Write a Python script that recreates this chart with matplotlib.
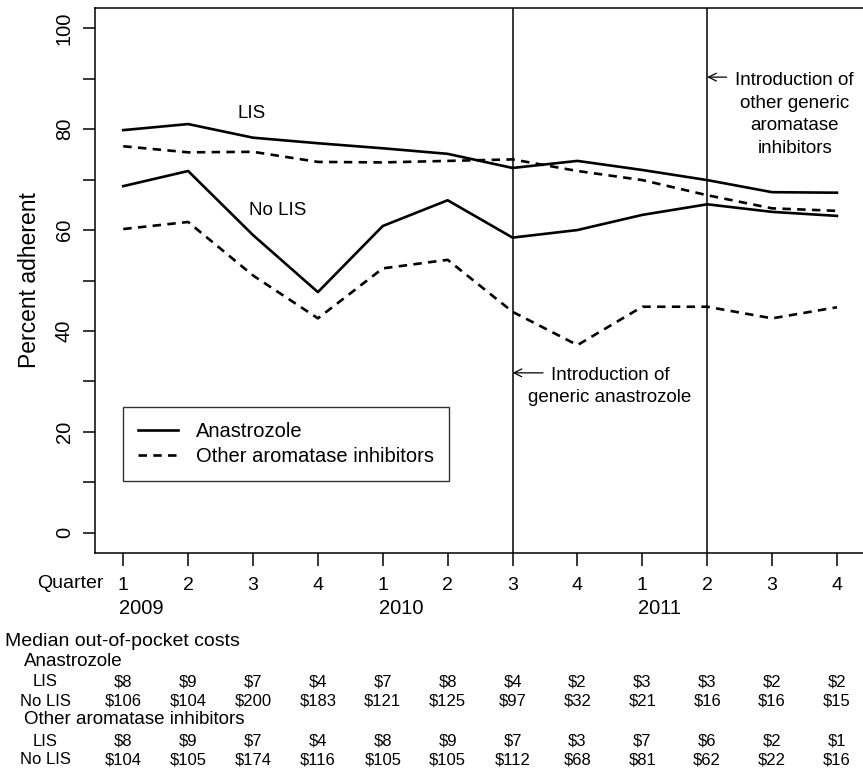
import numpy as np
import matplotlib
matplotlib.use("Agg")
import matplotlib.pyplot as plt

plt.rcParams['font.family'] = ['Liberation Sans', 'DejaVu Sans']

# quarters 2009 Q1 .. 2011 Q4
quarter_labels = ['1', '2', '3', '4', '1', '2', '3', '4', '1', '2', '3', '4']
year_labels = ['2009', '2010', '2011']
year_start = [1, 5, 9]
x = np.arange(1, 13)

# percent adherent
ana_lis = [79.8, 81.0, 78.3, 77.2, 76.2, 75.1, 72.3, 73.7, 71.9, 69.9, 67.5, 67.4]
oth_lis = [76.6, 75.4, 75.5, 73.5, 73.4, 73.7, 74.0, 71.7, 69.9, 66.9, 64.3, 63.8]
ana_nolis = [68.7, 71.7, 59.0, 47.7, 60.8, 65.9, 58.5, 60.0, 63.0, 65.1, 63.6, 62.8]
oth_nolis = [60.2, 61.6, 51.0, 42.5, 52.4, 54.1, 43.8, 37.2, 44.8, 44.8, 42.5, 44.7]

# median out-of-pocket costs ($)
ana_lis_cost = [8, 9, 7, 4, 7, 8, 4, 2, 3, 3, 2, 2]
ana_nolis_cost = [106, 104, 200, 183, 121, 125, 97, 32, 21, 16, 16, 15]
oth_lis_cost = [8, 9, 7, 4, 8, 9, 7, 3, 7, 6, 2, 1]
oth_nolis_cost = [104, 105, 174, 116, 105, 105, 112, 68, 81, 62, 22, 16]

generic_anastrozole_q = 7
generic_other_q = 10

W, H = 863, 770
# axes box in pixels (R-style 4% padding, right edge runs off the image)
AX_L, AX_R, AX_T, AX_B = 94.7, 865.5, 8.0, 553.0

fig = plt.figure(figsize=(W / 100, H / 100), dpi=100)
ax = fig.add_axes([AX_L / W, 1 - AX_B / H, (AX_R - AX_L) / W, (AX_B - AX_T) / H])


def below(py):
    # pixel row -> axes fraction (for text under the axes)
    return (AX_B - py) / (AX_B - AX_T)


dash = (3.2, 2.4)
lw = 1.9
ax.plot(x, ana_lis, color='black', lw=lw, label='Anastrozole')
ax.plot(x, oth_lis, color='black', lw=lw, dashes=dash, label='Other aromatase inhibitors')
ax.plot(x, ana_nolis, color='black', lw=lw)
ax.plot(x, oth_nolis, color='black', lw=lw, dashes=dash)

ax.axvline(generic_anastrozole_q, color='black', lw=1.1)
ax.axvline(generic_other_q, color='black', lw=1.1)

ax.set_xlim(0.56, 12.44)
ax.set_ylim(-4, 104)

for s in ax.spines.values():
    s.set_linewidth(1.1)

ax.set_yticks([0, 20, 40, 60, 80, 100])
ax.set_yticks(np.arange(10, 100, 20), minor=True)
ax.set_yticklabels(['0', '20', '40', '60', '80', '100'], rotation=90, va='center', fontsize=14.5)
ax.tick_params(axis='y', which='both', length=9, width=1.1, pad=6)
ax.set_ylabel('Percent adherent', fontsize=16.5, labelpad=10)

ax.set_xticks(x)
ax.set_xticklabels(quarter_labels, fontsize=14)
ax.tick_params(axis='x', length=9, width=1.1, pad=8)

xt = ax.get_xaxis_transform()
ax.text(0.70, below(584), 'Quarter', transform=xt, ha='right', va='center', fontsize=14)
for yr, q in zip(year_labels, year_start):
    ax.text(q - 0.06, below(609), yr, transform=xt, ha='left', va='center', fontsize=14.5)

# group labels
ax.text(2.98, 83.0, 'LIS', ha='center', va='center', fontsize=13.5)
ax.text(3.38, 63.8, 'No LIS', ha='center', va='center', fontsize=13.5)

# generic introduction notes
ax.annotate('', xy=(generic_anastrozole_q, 31.7), xytext=(7.47, 31.7),
            arrowprops=dict(arrowstyle='->', lw=0.9, color='black', shrinkA=0, shrinkB=0,
                            mutation_scale=14))
ax.text(8.50, 29.0, 'Introduction of\ngeneric anastrozole', ha='center', va='center',
        fontsize=13.5, linespacing=1.33)
ax.annotate('', xy=(generic_other_q, 90.3), xytext=(10.3, 90.3),
            arrowprops=dict(arrowstyle='->', lw=0.9, color='black', shrinkA=0, shrinkB=0,
                            mutation_scale=14))
ax.text(11.35, 82.9, 'Introduction of\nother generic\naromatase\ninhibitors', ha='center',
        va='center', fontsize=13.5, linespacing=1.45)

leg = ax.legend(loc='upper left', bbox_to_anchor=((123 - AX_L) / (AX_R - AX_L), below(407)),
                borderaxespad=0, fontsize=14.5, frameon=True, fancybox=False,
                edgecolor='black', handlelength=2.0, handletextpad=0.85,
                labelspacing=0.3, borderpad=0.75)
leg.get_frame().set_linewidth(1.0)

# cost table under the plot
def ftext(px, py, s, **kw):
    fig.text(px / W, 1 - py / H, s, va='center', **kw)


ftext(5, 642, 'Median out-of-pocket costs', fontsize=14)
ftext(24, 662, 'Anastrozole', fontsize=13.5)
ftext(24, 720, 'Other aromatase inhibitors', fontsize=13.5)

rows = [(682, 'LIS', ana_lis_cost), (701, 'No LIS', ana_nolis_cost),
        (741, 'LIS', oth_lis_cost), (760, 'No LIS', oth_nolis_cost)]
for py, lab, vals in rows:
    ftext(45, py, lab, fontsize=12, ha='center')
    for q, v in zip(x, vals):
        ax.text(q, below(py), '$' + str(v), transform=xt, ha='center', va='center', fontsize=12)

fig.savefig('out.png', dpi=100)
